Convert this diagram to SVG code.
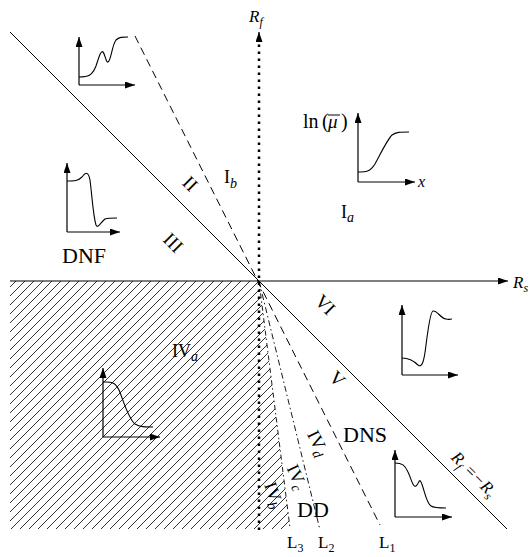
<svg xmlns="http://www.w3.org/2000/svg" width="531" height="557" viewBox="0 0 531 557">
<style>
.ax{stroke:#000;stroke-width:1.2;fill:none}
.in{stroke:#000;stroke-width:1.2;fill:none}
.cv{stroke:#000;stroke-width:1.1;fill:none}
.t{font-family:"Liberation Serif",serif;fill:#000}
.mi{font-family:"Liberation Serif",serif;font-style:italic;fill:#000}
</style>
<defs>
<marker id="ar" markerUnits="userSpaceOnUse" markerWidth="12" markerHeight="8" refX="10" refY="3.5" orient="auto">
<path d="M0,0 L10,3.5 L0,7 z" fill="#000"/>
</marker>
<pattern id="hatch" patternUnits="userSpaceOnUse" width="9" height="9">
<path d="M0,9 L9,0 M-1,1 L1,-1 M8,10 L10,8" stroke="#000" stroke-width="0.8"/>
</pattern>
</defs>
<g id="hatched-region">
<polygon points="10,281 259,281 290,529 10,529" fill="url(#hatch)"/>
</g>
<g id="connectors">
<line class="ax" x1="10" y1="281" x2="508" y2="281" marker-end="url(#ar)"/>
<line x1="259" y1="530" x2="259" y2="42" stroke="#000" stroke-width="2.5" stroke-dasharray="2.5 4.5"/>
<path d="M259,42 V32" class="ax" marker-end="url(#ar)"/>
<line x1="10" y1="32" x2="507" y2="529" stroke="#000" stroke-width="1"/>
<line x1="135" y1="36" x2="380" y2="525" stroke="#000" stroke-width="1" stroke-dasharray="8 5"/>
<line x1="259" y1="281" x2="320" y2="530" stroke="#000" stroke-width="0.9" stroke-dasharray="6 3 1.5 3"/>
<line x1="259" y1="281" x2="290" y2="528" stroke="#000" stroke-width="0.9" stroke-dasharray="5 3 1.5 3"/>
</g>
<g id="axis-labels">
<text class="mi" x="249" y="22" font-size="17">R<tspan font-size="12" dy="4">f</tspan></text>
<text class="mi" x="513" y="288" font-size="17">R<tspan font-size="12" dy="4">s</tspan></text>
<text class="mi" font-size="17" transform="translate(470,478) rotate(45)" text-anchor="middle">R<tspan font-size="12" dy="4">f</tspan><tspan dy="-4"> =−R</tspan><tspan font-size="12" dy="4">s</tspan></text>
</g>
<g id="inset-top-left">
<path class="in" d="M79,85 V37" marker-end="url(#ar)"/>
<path class="in" d="M79,85 H135" marker-end="url(#ar)"/>
<path class="cv" d="M79,77 C88,77 92,76 96,66 C99,57 101,50 103,52 C105,54 106,63 108,62 C111,61 112,45 116,40 C119,37 122,37 128,37"/>
</g>
<g id="inset-top-right">
<path class="in" d="M358,182 V113" marker-end="url(#ar)"/>
<path class="in" d="M358,182 H415" marker-end="url(#ar)"/>
<path class="cv" d="M358,172 C366,172 370,172 375,164 C380,155 387,140 392,135 C396,132 400,132 409,132"/>
<text class="t" x="303" y="128" font-size="20">ln</text>
<text class="t" x="322" y="128" font-size="20">(</text>
<text class="mi" x="328" y="128" font-size="19">μ</text>
<text class="t" x="341" y="128" font-size="20">)</text>
<line x1="328" y1="115" x2="340" y2="115" stroke="#000" stroke-width="1"/>
<text class="mi" x="418" y="187" font-size="16">x</text>
</g>
<g id="inset-left">
<path class="in" d="M67,232 V163" marker-end="url(#ar)"/>
<path class="in" d="M67,232 H120" marker-end="url(#ar)"/>
<path class="cv" d="M67,181 C74,181 78,181 82,177 C85,173 88,170 90,180 C92,195 93,215 96,225 C98,229 101,222 105,219 C108,218 112,218 117,218"/>
</g>
<g id="inset-hatched">
<path class="in" d="M103,437 V368" marker-end="url(#ar)"/>
<path class="in" d="M103,437 H160" marker-end="url(#ar)"/>
<path class="cv" d="M103,382 C110,382 115,381 119,390 C124,402 128,418 135,424 C140,427 145,427 153,427"/>
</g>
<g id="inset-right">
<path class="in" d="M402,375 V305" marker-end="url(#ar)"/>
<path class="in" d="M402,375 H458" marker-end="url(#ar)"/>
<path class="cv" d="M402,358 C410,358 414,361 418,365 C422,368 424,362 426,345 C428,330 430,312 433,311 C437,310 440,318 446,319 C449,320 450,319 452,319"/>
</g>
<g id="inset-bottom-right">
<path class="in" d="M395,517 V450" marker-end="url(#ar)"/>
<path class="in" d="M395,517 H452" marker-end="url(#ar)"/>
<path class="cv" d="M395,463 C402,463 405,465 408,472 C411,478 413,488 416,486 C419,484 419,478 421,482 C424,488 426,503 431,506 C434,508 440,508 446,508"/>
</g>
<g id="region-labels">
<text class="t" x="224" y="183" font-size="18">I<tspan class="mi" font-size="14" dy="5">b</tspan></text>
<text class="t" x="341" y="218" font-size="18">I<tspan class="mi" font-size="14" dy="4">a</tspan></text>
<text class="t" font-size="19" text-anchor="middle" transform="translate(190,184) rotate(45)" dy="6">II</text>
<text class="t" font-size="19" text-anchor="middle" transform="translate(173,243) rotate(45)" dy="6">III</text>
<text class="t" font-size="19" text-anchor="middle" transform="translate(325,305) rotate(45)" dy="6">VI</text>
<text class="t" font-size="19" text-anchor="middle" transform="translate(337,379) rotate(45)" dy="6">V</text>
<text class="t" x="172" y="357" font-size="18">IV<tspan class="mi" font-size="14" dy="4">a</tspan></text>
<text class="t" font-size="18" text-anchor="middle" transform="translate(318,443) rotate(63)" dy="6">IV<tspan class="mi" font-size="14" dy="4">d</tspan></text>
<text class="t" font-size="18" text-anchor="middle" transform="translate(297,477) rotate(65)" dy="6">IV<tspan class="mi" font-size="14" dy="4">c</tspan></text>
<text class="t" font-size="18" text-anchor="middle" transform="translate(274,495) rotate(70)" dy="6">IV<tspan class="mi" font-size="14" dy="4">b</tspan></text>
<text class="t" x="62" y="263" font-size="22">DNF</text>
<text class="t" x="343" y="442" font-size="22">DNS</text>
<text class="t" x="297" y="517" font-size="22">DD</text>
</g>
<g id="line-labels">
<text class="t" x="287" y="548" font-size="17">L<tspan font-size="12" dy="4">3</tspan></text>
<text class="t" x="318" y="548" font-size="17">L<tspan font-size="12" dy="4">2</tspan></text>
<text class="t" x="379" y="548" font-size="17">L<tspan font-size="12" dy="4">1</tspan></text>
</g>
</svg>
